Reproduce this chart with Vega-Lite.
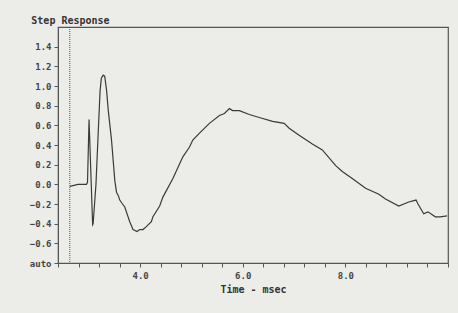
{
  "$schema": "https://vega.github.io/schema/vega-lite/v6.json",
  "width": 390,
  "height": 236,
  "autosize": {"type": "none"},
  "padding": {"left": 58, "top": 27, "right": 10, "bottom": 50},
  "background": "#ecece9",
  "title": {"text": "Step Response", "anchor": "start", "dx": 2, "offset": 1, "font": "DejaVu Sans Mono", "fontSize": 10, "fontWeight": "bold", "color": "#333333"},
  "config": {
    "view": {"stroke": "#555555", "strokeWidth": 1.2},
    "axis": {"labelFont": "DejaVu Sans Mono", "labelFontWeight": "bold", "labelColor": "#444444", "titleFont": "DejaVu Sans Mono", "titleColor": "#333333", "domainColor": "#555555", "tickColor": "#555555", "grid": false, "labelOverlap": false}
  },
  "resolve": {"axis": {"x": "independent"}},
  "layer": [
    {
      "data": {"values": [
        {"t": 2.63, "v": -0.02}, {"t": 2.79, "v": 0.0}, {"t": 2.955, "v": 0.0}, {"t": 2.975, "v": 0.02},
        {"t": 3.005, "v": 0.66}, {"t": 3.075, "v": -0.41}, {"t": 3.085, "v": -0.40},
        {"t": 3.14, "v": 0.0}, {"t": 3.19, "v": 0.6}, {"t": 3.22, "v": 0.95}, {"t": 3.245, "v": 1.08},
        {"t": 3.28, "v": 1.11}, {"t": 3.31, "v": 1.10}, {"t": 3.346, "v": 0.96}, {"t": 3.38, "v": 0.75},
        {"t": 3.443, "v": 0.45}, {"t": 3.507, "v": 0.04}, {"t": 3.54, "v": -0.08}, {"t": 3.571, "v": -0.11},
        {"t": 3.604, "v": -0.16}, {"t": 3.643, "v": -0.19}, {"t": 3.701, "v": -0.23}, {"t": 3.798, "v": -0.38},
        {"t": 3.862, "v": -0.46}, {"t": 3.94, "v": -0.48}, {"t": 3.992, "v": -0.46}, {"t": 4.056, "v": -0.46},
        {"t": 4.122, "v": -0.43}, {"t": 4.219, "v": -0.38}, {"t": 4.25, "v": -0.33}, {"t": 4.381, "v": -0.22},
        {"t": 4.444, "v": -0.13}, {"t": 4.639, "v": 0.06}, {"t": 4.833, "v": 0.28}, {"t": 4.963, "v": 0.38},
        {"t": 5.027, "v": 0.45}, {"t": 5.157, "v": 0.52}, {"t": 5.351, "v": 0.62}, {"t": 5.546, "v": 0.70},
        {"t": 5.643, "v": 0.72}, {"t": 5.74, "v": 0.77}, {"t": 5.804, "v": 0.75}, {"t": 5.934, "v": 0.75},
        {"t": 6.128, "v": 0.71}, {"t": 6.322, "v": 0.68}, {"t": 6.581, "v": 0.64}, {"t": 6.808, "v": 0.62},
        {"t": 6.905, "v": 0.57}, {"t": 7.099, "v": 0.50}, {"t": 7.357, "v": 0.41}, {"t": 7.551, "v": 0.35},
        {"t": 7.812, "v": 0.19}, {"t": 7.94, "v": 0.13}, {"t": 8.134, "v": 0.06}, {"t": 8.394, "v": -0.04},
        {"t": 8.652, "v": -0.10}, {"t": 8.782, "v": -0.15}, {"t": 9.041, "v": -0.22}, {"t": 9.235, "v": -0.18},
        {"t": 9.377, "v": -0.16}, {"t": 9.416, "v": -0.20}, {"t": 9.526, "v": -0.30}, {"t": 9.61, "v": -0.28},
        {"t": 9.753, "v": -0.33}, {"t": 9.851, "v": -0.33}, {"t": 9.98, "v": -0.32}
      ]},
      "mark": {"type": "line", "color": "#3a3a3a", "strokeWidth": 1.2, "clip": true},
      "encoding": {
        "x": {"field": "t", "type": "quantitative", "scale": {"domain": [2.4, 10], "nice": false, "zero": false},
          "axis": {"orient": "bottom", "title": "Time - msec", "titleFontSize": 10, "titleFontWeight": "bold", "titlePadding": 4,
            "values": [4, 6, 8],
            "format": ".1f",
            "ticks": false,
            "labelOverlap": false,
            "labelFontSize": 9, "labelPadding": 8, "labelFlush": false}},
        "y": {"field": "v", "type": "quantitative", "scale": {"domain": [-0.8, 1.6], "nice": false, "zero": false},
          "axis": {"title": null,
            "values": [-0.8, -0.6, -0.4, -0.2, 0, 0.2, 0.4, 0.6, 0.8, 1.0, 1.2, 1.4],
            "labelExpr": "datum.value <= -0.79 ? 'auto' : format(datum.value, '.1f')",
            "labelOverlap": false,
            "labelFontSize": 9, "tickSize": 4, "labelPadding": 3, "labelFlush": false}}
      }
    },
    {
      "data": {"values": [{"t": 2.63}]},
      "mark": {"type": "rule", "color": "#555555", "strokeDash": [1, 1], "strokeWidth": 1},
      "encoding": {"x": {"field": "t", "type": "quantitative",
        "axis": {"orient": "bottom", "title": null, "labels": false, "domain": false, "tickSize": 4,
          "values": [2.4, 2.8, 3.2, 3.6, 4, 4.4, 4.8, 5.2, 5.6, 6, 6.4, 6.8, 7.2, 7.6, 8, 8.4, 8.8, 9.2, 9.6, 10]}}}
    }
  ]
}
